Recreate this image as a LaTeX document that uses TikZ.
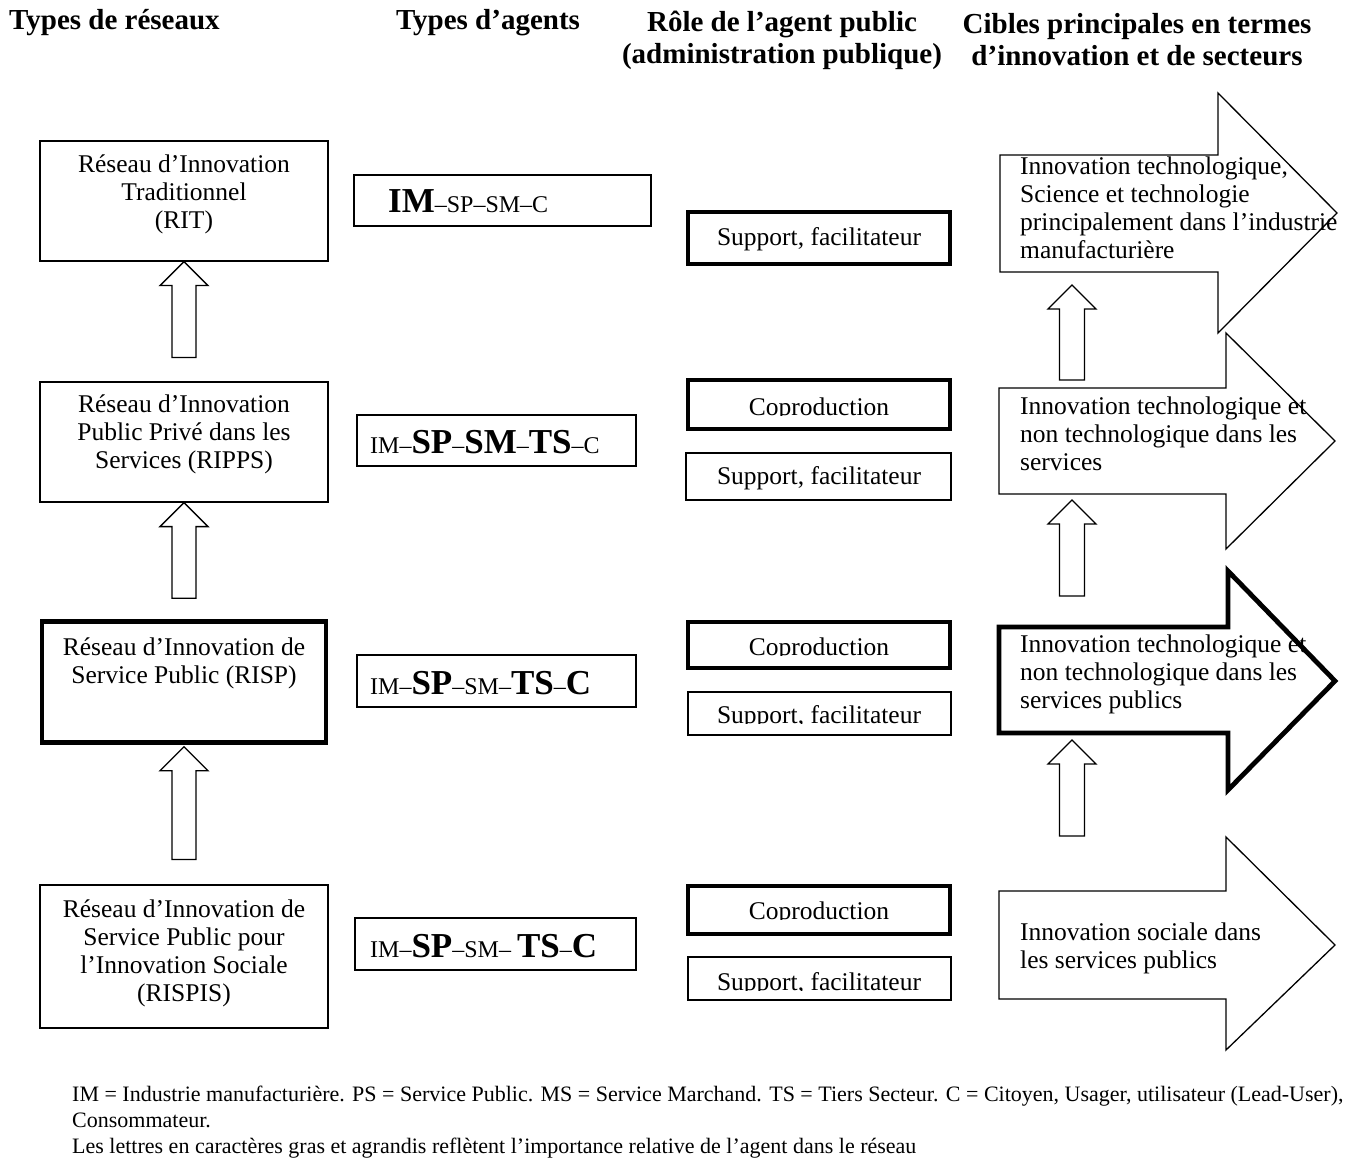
\documentclass[tikz,border=0pt]{standalone}
\usepackage{fontspec}
\setmainfont{Liberation Serif}
\usetikzlibrary{calc}
\newcommand\bodyfont{\fontsize{25.5}{28}\selectfont}
\newcommand\headfont{\fontsize{29}{32}\selectfont\bfseries}
\newcommand\bigag[1]{{\fontsize{35}{35}\selectfont\bfseries #1}}
\newcommand\smallag[1]{{\fontsize{24}{24}\selectfont #1}}
\begin{document}
\begin{tikzpicture}[x=1pt,y=-1pt,
  thinbox/.style={draw, line width=1.2pt, fill=white, inner sep=0pt},
  agbox/.style={draw, line width=2pt, fill=white, inner sep=0pt},
  thickbox/.style={draw, line width=4.5pt, fill=white, inner sep=0pt},
  txt/.style={font=\bodyfont, inner sep=0pt},
  headtxt/.style={font=\headfont, inner sep=0pt, align=center},
  blockarrow/.style={draw, line width=1.3pt, fill=white, line join=miter},
  bigarrow/.style={draw, line width=1.3pt, fill=white, line join=miter},
  bigarrowthick/.style={draw, line width=4.8pt, fill=white, line join=miter}
]
\useasboundingbox (0,0) rectangle (1354,1158);
\fill[white] (0,0) rectangle (1354,1158);

% ---------- headers ----------
\node[headtxt, anchor=west] (h1) at (9,23) {Types de réseaux};
\node[headtxt] (h2) at (488,23) {Types d’agents};
\node[headtxt] (h3) at (782,40) {Rôle de l’agent public\\(administration publique)};
\node[headtxt] (h4) at (1137,40) {Cibles principales en termes\\d’innovation et de secteurs};

% ---------- left column: network types ----------
\node[thinbox, minimum width=288pt, minimum height=120pt] (rit) at (184,201) {};
\node[txt, align=center] (ritt) at (184,194) {Réseau d’Innovation\\Traditionnel\\(RIT)};
\node[thinbox, minimum width=288pt, minimum height=120pt] (ripps) at (184,442) {};
\node[txt, align=center] (rippst) at (184,434) {Réseau d’Innovation\\Public Privé dans les\\Services (RIPPS)};
\node[thickbox, minimum width=284pt, minimum height=121pt] (risp) at (184,682) {};
\node[txt, align=center] (rispt) at (184,663) {Réseau d’Innovation de\\Service Public (RISP)};
\node[thinbox, minimum width=288pt, minimum height=143pt] (rispis) at (184,956.5) {};
\node[txt, align=center] (rispist) at (184,953) {Réseau d’Innovation de\\Service Public pour\\l’Innovation Sociale\\(RISPIS)};

% block up-arrows (left)
\newcommand\blockup[3]{% #1 tip, #2 bottom, #3 half shaft width
  \draw[blockarrow] let \p1=#1, \p2=#2 in
    (\x1,\y1) -- (\x1+24pt,\y1-24pt) -- (\x1+#3,\y1-24pt) -- (\x1+#3,\y2)
    -- (\x1-#3,\y2) -- (\x1-#3,\y1-24pt) -- (\x1-24pt,\y1-24pt) -- cycle;}
\coordinate (a1b) at ($(ripps.north)+(0,-24)$);
\coordinate (a2b) at ($(risp.north)+(0,-21)$);
\coordinate (a3b) at ($(rispis.north)+(0,-25)$);
\blockup{(rit.south)}{(a1b)}{12pt}
\blockup{(ripps.south)}{(a2b)}{12pt}
\blockup{($(risp.south)+(0,2)$)}{(a3b)}{12pt}

% ---------- agents column ----------
\node[agbox, minimum width=297pt, minimum height=51pt] (ag1) at (502.5,200.5) {};
\node[inner sep=0pt, anchor=base west] (ag1t) at (388,213) {\bigag{IM}\smallag{–SP–SM–C}};
\node[agbox, minimum width=279pt, minimum height=51pt] (ag2) at (496.5,440.5) {};
\node[inner sep=0pt, anchor=base west] (ag2t) at (370,453) {\smallag{IM–}\bigag{SP}\smallag{–}\bigag{SM}\smallag{–}\bigag{TS}\smallag{–C}};
\node[agbox, minimum width=279pt, minimum height=52pt] (ag3) at (496.5,681) {};
\node[inner sep=0pt, anchor=base west] (ag3t) at (370,694) {\smallag{IM–}\bigag{SP}\smallag{–SM–}\bigag{TS}\smallag{–}\bigag{C}};
\node[agbox, minimum width=281pt, minimum height=52pt] (ag4) at (495.5,944) {};
\node[inner sep=0pt, anchor=base west] (ag4t) at (370,957) {\smallag{IM–}\bigag{SP}\smallag{–SM– }\bigag{TS}\smallag{–}\bigag{C}};

% ---------- role column ----------
\node[thickbox, minimum width=262pt, minimum height=52pt] (ro1s) at (819,238) {};
\node[txt] (ro1st) at (819,239) {Support, facilitateur};

\node[thickbox, minimum width=262pt, minimum height=49pt] (ro2c) at (819,404.5) {};
\begin{scope}\clip (690,380) rectangle (948,415.5);
\node[txt, anchor=base] (ro2ct) at (819,415) {Coproduction};
\end{scope}
\node[thinbox, minimum width=265pt, minimum height=47pt] (ro2s) at (818.5,476.5) {};
\node[txt] (ro2st) at (819,478) {Support, facilitateur};

\node[thickbox, minimum width=262pt, minimum height=46pt] (ro3c) at (819,645) {};
\begin{scope}\clip (690,622) rectangle (948,655.5);
\node[txt, anchor=base] (ro3ct) at (819,655) {Coproduction};
\end{scope}
\node[thinbox, minimum width=263pt, minimum height=43pt] (ro3s) at (819.5,713.5) {};
\begin{scope}\clip (690,694) rectangle (950,723.5);
\node[txt, anchor=base] (ro3st) at (819,723) {Support, facilitateur};
\end{scope}

\node[thickbox, minimum width=262pt, minimum height=48pt] (ro4c) at (819,910) {};
\begin{scope}\clip (690,886) rectangle (948,919.5);
\node[txt, anchor=base] (ro4ct) at (819,919) {Coproduction};
\end{scope}
\node[thinbox, minimum width=263pt, minimum height=43pt] (ro4s) at (819.5,978.5) {};
\begin{scope}\clip (690,959) rectangle (950,990.5);
\node[txt, anchor=base] (ro4st) at (819,990) {Support, facilitateur};
\end{scope}

% ---------- big right arrows ----------
\draw[bigarrow] (1000,155) -- (1218,155) -- (1218,93) -- (1337,213) -- (1218,333) -- (1218,272) -- (1000,272) -- cycle;
\coordinate (g1b) at (1072,272);
\draw[bigarrow] (999,388) -- (1226,388) -- (1226,333) -- (1335,441) -- (1226,549) -- (1226,494) -- (999,494) -- cycle;
\coordinate (g2t) at (1072,388);
\coordinate (g2b) at (1072,494);
\draw[bigarrowthick] (999,627) -- (1228,627) -- (1228,571) -- (1335,681) -- (1228,790) -- (1228,733) -- (999,733) -- cycle;
\coordinate (g3t) at (1072,627);
\coordinate (g3b) at (1072,733);
\draw[bigarrow] (999,891) -- (1226,891) -- (1226,837) -- (1335,945) -- (1226,1050) -- (1226,999) -- (999,999) -- cycle;
\coordinate (g4t) at (1072,891);

\node[txt, anchor=west, align=left] (g1t) at (1020,208) {Innovation technologique,\\Science et technologie\\principalement dans l’industrie\\manufacturière};
\node[txt, anchor=west, align=left] (g2tt) at (1020,434) {Innovation technologique et\\non technologique dans les\\services};
\node[txt, anchor=west, align=left] (g3tt) at (1020,674) {Innovation technologique et\\non technologique dans les\\services publics};
\node[txt, anchor=west, align=left] (g4tt) at (1020,948) {Innovation sociale dans\\les services publics};

% small block up-arrows (right)
\coordinate (b1t) at ($(g1b)+(0,13)$);
\coordinate (b1b) at ($(g2t)+(0,-8)$);
\coordinate (b2t) at ($(g2b)+(0,6)$);
\coordinate (b2b) at ($(g3t)+(0,-31)$);
\coordinate (b3t) at ($(g3b)+(0,7)$);
\coordinate (b3b) at ($(g4t)+(0,-55)$);
\blockup{(b1t)}{(b1b)}{12.5pt}
\blockup{(b2t)}{(b2b)}{12.5pt}
\blockup{(b3t)}{(b3b)}{12.5pt}

% ---------- footnote ----------
\node[inner sep=0pt, anchor=north west, align=left, font=\fontsize{22}{26}\selectfont] (note) at (72,1086)
 {IM = Industrie manufacturière. PS = Service Public. MS = Service Marchand. TS = Tiers Secteur. C = Citoyen, Usager, utilisateur (Lead-User),\\
  Consommateur.\\
  Les lettres en caractères gras et agrandis reflètent l’importance relative de l’agent dans le réseau};
\end{tikzpicture}
\end{document}
